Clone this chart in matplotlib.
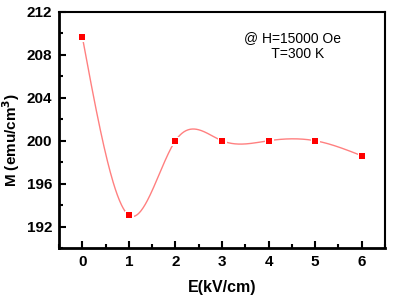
import numpy as np
import matplotlib
matplotlib.use("Agg")
import matplotlib.pyplot as plt
from matplotlib.ticker import MultipleLocator

E = [0, 1, 2, 3, 4, 5, 6]
M = [209.7, 193.05, 200.0, 200.0, 200.0, 200.0, 198.6]
xticks = [0, 1, 2, 3, 4, 5, 6]
yticks = [192, 196, 200, 204, 208, 212]


def natural_spline(x, y, xs):
    x = np.asarray(x, float); y = np.asarray(y, float)
    n = len(x)
    h = np.diff(x)
    A = np.zeros((n, n)); b = np.zeros(n)
    A[0, 0] = 1; A[-1, -1] = 1
    for i in range(1, n - 1):
        A[i, i - 1] = h[i - 1]
        A[i, i] = 2 * (h[i - 1] + h[i])
        A[i, i + 1] = h[i]
        b[i] = 3 * ((y[i + 1] - y[i]) / h[i] - (y[i] - y[i - 1]) / h[i - 1])
    c = np.linalg.solve(A, b)
    out = np.empty_like(xs)
    for k, xv in enumerate(xs):
        i = min(max(np.searchsorted(x, xv) - 1, 0), n - 2)
        dx = xv - x[i]
        bi = (y[i + 1] - y[i]) / h[i] - h[i] * (2 * c[i] + c[i + 1]) / 3
        di = (c[i + 1] - c[i]) / (3 * h[i])
        out[k] = y[i] + bi * dx + c[i] * dx ** 2 + di * dx ** 3
    return out


plt.rcParams['font.family'] = ['Liberation Sans', 'DejaVu Sans']

fig = plt.figure(figsize=(3.96, 3.02), dpi=100)
ax = fig.add_axes([59 / 396, 1 - 248 / 302, 326 / 396, 236 / 302])

xs = np.linspace(min(E), max(E), 400)
ax.plot(xs, natural_spline(E, M, xs), color='#ff8080', lw=1.0, zorder=2)
ax.plot(E, M, linestyle='none', marker='s', ms=5, mfc='#ff0000',
        mec='white', mew=2.2, zorder=3)
ax.plot(E, M, linestyle='none', marker='s', ms=5, mfc='#ff0000',
        mec='#ff0000', mew=0, zorder=4)

ax.set_xlim(-0.5, 6.5)
ax.set_ylim(190, 212)
ax.set_xticks(xticks)
ax.set_yticks(yticks)
ax.xaxis.set_minor_locator(MultipleLocator(0.5))
ax.yaxis.set_minor_locator(MultipleLocator(2))
ax.tick_params(which='both', direction='in', top=False, right=False,
               width=1.5, labelsize=11, pad=5)
ax.tick_params(which='major', length=5)
ax.tick_params(which='minor', length=3)
for lab in ax.get_xticklabels() + ax.get_yticklabels():
    lab.set_fontweight('bold')
for s in ax.spines.values():
    s.set_linewidth(1.5)
ax.spines['left'].set_linewidth(2)
ax.spines['bottom'].set_linewidth(2)

ax.set_xlabel('E(kV/cm)', fontsize=11.5, fontweight='bold', labelpad=8)
ax.set_ylabel('M (emu/cm$^{\\mathbf{3}}$)', fontsize=11, fontweight='bold')
ax.yaxis.set_label_coords(-37 / 326, (248 - 140) / 236)

ax.text((292 - 59) / 326, (248 - 46) / 236, '@ H=15000 Oe\n   T=300 K', transform=ax.transAxes,
        fontsize=10, ha='center', va='center', linespacing=1.15)

fig.savefig('out.png', dpi=100)
